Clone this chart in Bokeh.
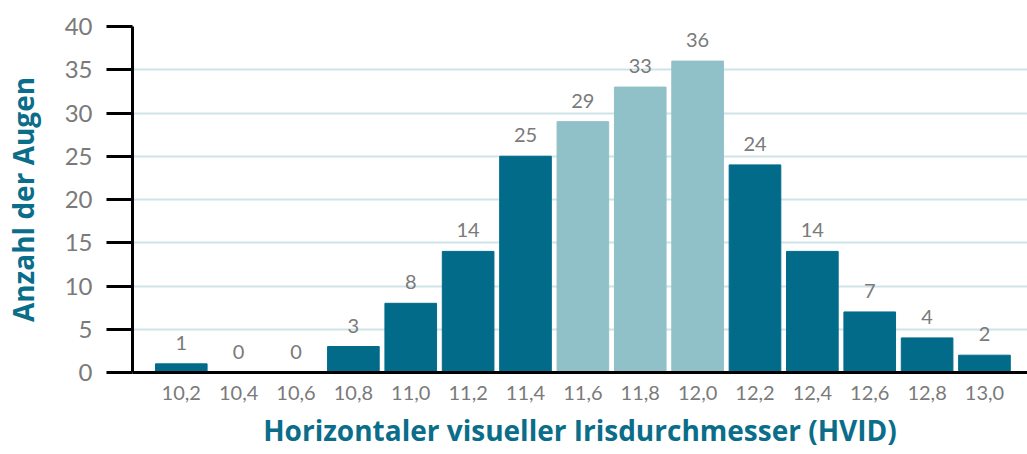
from bokeh.plotting import figure
from bokeh.models import ColumnDataSource, FixedTicker, LabelSet, Range1d
from bokeh.core.properties import value
from bokeh.embed import file_html
from bokeh.resources import INLINE

categories = ["10,2", "10,4", "10,6", "10,8", "11,0", "11,2", "11,4", "11,6",
              "11,8", "12,0", "12,2", "12,4", "12,6", "12,8", "13,0"]
counts = [1, 0, 0, 3, 8, 14, 25, 29, 33, 36, 24, 14, 7, 4, 2]
highlight = [False, False, False, False, False, False, False, True,
             True, True, False, False, False, False, False]
y_ticks = [0, 5, 10, 15, 20, 25, 30, 35, 40]
x_title = "Horizontaler visueller Irisdurchmesser (HVID)"
y_title = "Anzahl der Augen"

DARK = "#016b89"
LIGHT = "#90c1c8"
GRAY = "#7a7a7a"
TITLE = "#0a6d8a"

idx = list(range(len(categories)))
src = ColumnDataSource(dict(
    x=idx, top=counts,
    color=[LIGHT if h else DARK for h in highlight],
    label=[str(c) for c in counts],
))

p = figure(width=1027, height=454, output_backend="svg", toolbar_location=None,
           x_range=Range1d(-0.85, 14.75), y_range=Range1d(0, 40),
           min_border_left=131, min_border_right=0, min_border_top=26,
           min_border_bottom=82)
p.outline_line_color = None
p.background_fill_color = "white"

p.vbar(x="x", top="top", width=0.9, color="color", source=src)

labels = LabelSet(x="x", y="top", text="label", source=src, y_offset=14,
                  text_align="center", text_baseline="bottom",
                  text_font=value("Lato"), text_font_size="20px", text_color=GRAY)
p.add_layout(labels)

# x axis
p.xaxis.ticker = FixedTicker(ticks=idx)
p.xaxis.major_label_overrides = {i: c for i, c in zip(idx, categories)}
p.xaxis.major_tick_line_color = None
p.xaxis.major_tick_out = 0
p.xaxis.major_tick_in = 0
p.xaxis.minor_tick_line_color = None
p.xaxis.axis_line_color = "black"
p.xaxis.axis_line_width = 3
p.xaxis.major_label_text_font = "Lato"
p.xaxis.major_label_text_font_size = "20px"
p.xaxis.major_label_text_color = GRAY
p.xaxis.major_label_standoff = 13
p.xaxis.axis_label = x_title
p.xaxis.axis_label_text_font = "Open Sans"
p.xaxis.axis_label_text_font_style = "bold"
p.xaxis.axis_label_text_font_size = "28px"
p.xaxis.axis_label_text_color = TITLE
p.xaxis.axis_label_standoff = 8

# y axis
p.yaxis.ticker = FixedTicker(ticks=y_ticks)
p.yaxis.minor_tick_line_color = None
p.yaxis.major_tick_in = 0
p.yaxis.major_tick_out = 26
p.yaxis.major_tick_line_width = 3
p.yaxis.major_tick_line_color = "black"
p.yaxis.axis_line_color = "black"
p.yaxis.axis_line_width = 3
p.yaxis.major_label_text_font = "Lato"
p.yaxis.major_label_text_font_size = "24px"
p.yaxis.major_label_text_color = GRAY
p.yaxis.major_label_standoff = 14
p.yaxis.axis_label = y_title
p.yaxis.axis_label_text_font = "Open Sans"
p.yaxis.axis_label_text_font_style = "bold"
p.yaxis.axis_label_text_font_size = "28px"
p.yaxis.axis_label_text_color = TITLE
p.yaxis.axis_label_standoff = 20

p.xgrid.grid_line_color = None
p.ygrid.grid_line_color = "#cfe4e8"
p.ygrid.grid_line_width = 2

open("out.html", "w").write(file_html(p, INLINE))
